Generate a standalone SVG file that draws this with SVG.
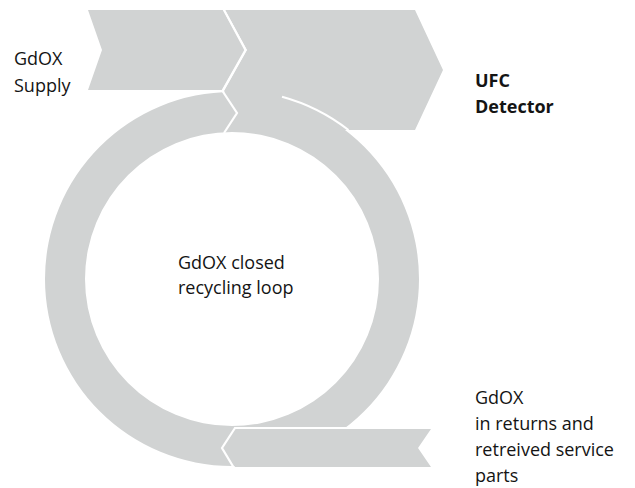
<svg xmlns="http://www.w3.org/2000/svg" width="635" height="488" viewBox="0 0 635 488">
<style>
.shape{fill:#D1D3D3;stroke:none}
.sep{fill:none;stroke:#FFFFFF;stroke-width:2.2;stroke-linejoin:miter}
.lbl{font-family:"Open Sans","Noto Sans","Liberation Sans",sans-serif;font-size:18px;fill:#141414}
.bold{font-weight:bold}
</style>
<rect x="0" y="0" width="635" height="488" fill="#FFFFFF"/>
<g id="loop">
<path class="shape" fill-rule="evenodd" d="M45,279 A187,187 0 1,0 419,279 A187,187 0 1,0 45,279 Z M85,279 A147,147 0 1,0 379,279 A147,147 0 1,0 85,279 Z"/>
</g>
<g id="ufc-detector-shape">
<polygon class="shape" points="225,10 415,10 443,70 415,130 228,130 237,113 224,91 247,50"/>
</g>
<g id="supply-shape">
<polygon class="shape" points="88,10 223,10 245,50 222,90 88,90 102,50"/>
</g>
<g id="returns-shape">
<polygon class="shape" points="235,429 431,429 418,448 431,467 235,467 222,448"/>
</g>
<g id="connectors">
<polyline class="sep" points="223.5,9 245.5,50 222.5,91 237,113 224,133"/>
<path class="sep" d="M282,96.7 A189,189 0 0,1 348.5,130"/>
<polyline class="sep" points="420,428 235,428 222,448 234,468"/>
</g>
<g id="label-supply">
<text class="lbl" x="14" y="65">GdOX</text>
<text class="lbl" x="14" y="92">Supply</text>
</g>
<g id="label-ufc">
<text class="lbl bold" x="475" y="87">UFC</text>
<text class="lbl bold" x="475" y="113">Detector</text>
</g>
<g id="label-loop">
<text class="lbl" x="178" y="269">GdOX closed</text>
<text class="lbl" x="178" y="294">recycling loop</text>
</g>
<g id="label-returns">
<text class="lbl" x="475" y="404">GdOX</text>
<text class="lbl" x="475" y="430">in returns and</text>
<text class="lbl" x="475" y="456">retreived service</text>
<text class="lbl" x="475" y="482">parts</text>
</g>
</svg>
